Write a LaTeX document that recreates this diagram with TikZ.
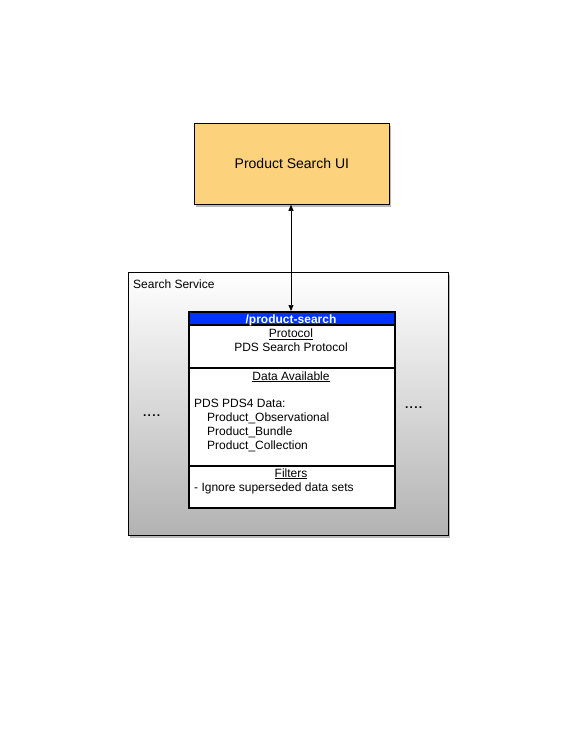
\documentclass[tikz,border=0pt]{standalone}
\usepackage{fontspec}
\setmainfont{Liberation Sans}
\usetikzlibrary{shadows,arrows.meta}
\definecolor{uiorange}{HTML}{FDD27C}
\definecolor{hdrblue}{HTML}{0033FF}
\newcommand{\wdots}{.\kern1.2pt.\kern1.2pt.\kern1.2pt.}
\begin{document}
\begin{tikzpicture}[x=1pt,y=-1pt,
  boxshadow/.style={drop shadow={shadow xshift=2pt,shadow yshift=-3pt,opacity=0.45,fill=black!60}},
  uibox/.style={draw=black,line width=0.8pt,fill=uiorange,boxshadow,minimum width=195pt,minimum height=81pt,inner sep=0pt,font=\fontsize{14}{16}\selectfont},
  svcbox/.style={draw=black,line width=0.8pt,top color=white,bottom color=black!30,boxshadow,minimum width=320pt,minimum height=263pt,inner sep=0pt},
  txt/.style={inner sep=0pt,font=\fontsize{12}{14}\selectfont},
  sect/.style={draw=black,line width=1.2pt},
  arr/.style={{Triangle[length=6pt,width=5pt]}-{Triangle[length=6pt,width=5pt]},line width=0.7pt}
]
\useasboundingbox (0,0) rectangle (576,733);
% service container
\node[svcbox,anchor=north west] (svc) at (128,272) {};
\node[txt,anchor=base west] (svclbl) at (133,288) {Search Service};
% UI box
\node[uibox,anchor=north west] (ui) at (194,123) {Product Search UI};
% inner box
\fill[white] (189,312) rectangle (395,508);
\fill[hdrblue] (189,312) rectangle (395,325);
\draw[sect] (189,312) rectangle (395,508);
\draw[sect] (189,325) -- (395,325);
\draw[sect] (189,368) -- (395,368);
\draw[sect] (189,466) -- (395,466);
\coordinate (inbox) at (291,311);
\node[txt,text=white,font=\fontsize{12}{14}\selectfont\bfseries,anchor=base] (hdr) at (291,323.5) {/product-search};
\node[txt,anchor=base] (proto) at (291,337.5) {\underline{Protocol}};
\node[txt,anchor=base] (protov) at (291,351.5) {PDS Search Protocol};
\node[txt,anchor=base] (data) at (291,380) {\underline{Data Available}};
\node[txt,anchor=base west] (d0) at (194,407) {PDS PDS4 Data:};
\node[txt,anchor=base west] (d1) at (207,421) {Product\_Observational};
\node[txt,anchor=base west] (d2) at (207,435) {Product\_Bundle};
\node[txt,anchor=base west] (d3) at (207,449) {Product\_Collection};
\node[txt,anchor=base] (filt) at (291,477) {\underline{Filters}};
\node[txt,anchor=base west] (filtv) at (194,491.5) {- Ignore superseded data sets};
\node[txt,font=\fontsize{12}{14}\selectfont\bfseries,anchor=base west] (dotsl) at (143,416) {\wdots};
\node[txt,font=\fontsize{12}{14}\selectfont\bfseries,anchor=base west] (dotsr) at (405,408) {\wdots};
% connector
\draw[arr] (ui.south -| inbox) -- (inbox);
\end{tikzpicture}
\end{document}
